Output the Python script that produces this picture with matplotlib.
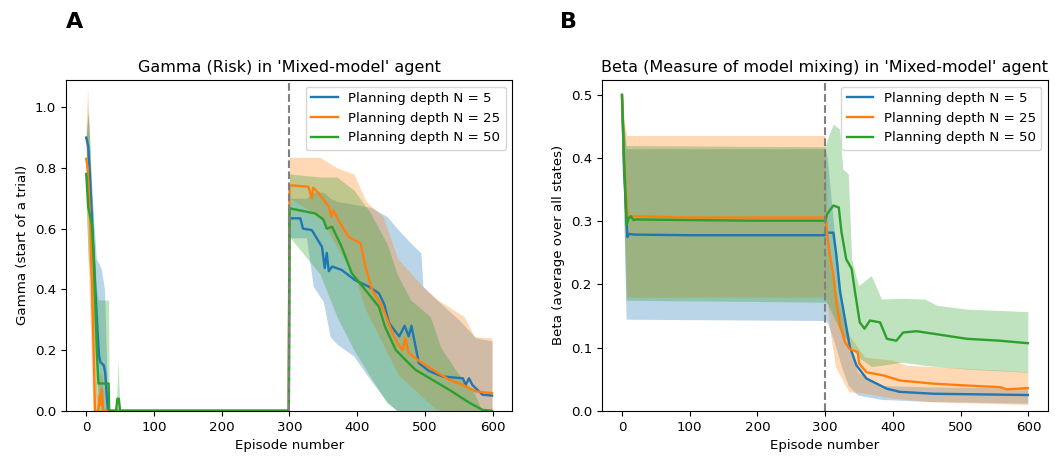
import numpy as np
import matplotlib
matplotlib.use("Agg")
import matplotlib.pyplot as plt

plt.rcParams['font.size'] = 9.6

labels = ["Planning depth N = 5", "Planning depth N = 25", "Planning depth N = 50"]
colors = ["tab:blue", "tab:orange", "tab:green"]

# ---- Panel A: gamma, mean lines (episode, value)
gA_ep_n5 = [0, 3, 6, 11, 16, 19, 21, 26, 28, 30, 32, 40, 100, 200, 299, 300, 316, 320, 333, 348,
            352, 355, 358, 363, 377, 397, 417, 432, 440, 447, 462, 470, 476, 480, 491, 506, 526,
            556, 560, 565, 570, 585, 599]
gA_n5 = [0.90, 0.87, 0.75, 0.51, 0.29, 0.18, 0.16, 0.15, 0.125, 0.06, 0.0, 0.0, 0.0, 0.0, 0.0,
         0.634, 0.634, 0.60, 0.595, 0.54, 0.47, 0.52, 0.46, 0.475, 0.464, 0.43, 0.409, 0.387, 0.35,
         0.289, 0.245, 0.28, 0.245, 0.28, 0.157, 0.131, 0.113, 0.107, 0.085, 0.107, 0.085, 0.053, 0.05]

gA_ep_n25 = [0, 2, 6, 11, 13, 18, 20, 21, 23, 25, 30, 100, 200, 299, 300, 328, 333, 335, 343, 358,
             362, 365, 372, 387, 405, 412, 422, 437, 452, 460, 467, 471, 476, 496, 516, 536, 556,
             575, 599]
gA_n25 = [0.83, 0.80, 0.62, 0.19, 0.0, 0.0, 0.05, 0.02, 0.07, 0.0, 0.0, 0.0, 0.0, 0.0, 0.743,
          0.738, 0.70, 0.735, 0.717, 0.672, 0.64, 0.66, 0.628, 0.573, 0.552, 0.475, 0.398, 0.343,
          0.256, 0.22, 0.20, 0.24, 0.19, 0.157, 0.129, 0.102, 0.085, 0.064, 0.058]

gA_ep_n50 = [0, 3, 8, 11, 16, 18, 33, 34, 44, 46, 48, 50, 100, 200, 299, 300, 338, 350, 355, 363,
             377, 392, 412, 432, 441, 457, 471, 486, 511, 536, 566, 585, 599]
gA_n50 = [0.78, 0.67, 0.62, 0.51, 0.18, 0.09, 0.09, 0.0, 0.0, 0.04, 0.04, 0.0, 0.0, 0.0, 0.0,
          0.667, 0.65, 0.63, 0.60, 0.606, 0.54, 0.453, 0.398, 0.343, 0.277, 0.20, 0.168, 0.135,
          0.102, 0.069, 0.026, 0.003, 0.0]

# ---- Panel A: shaded bands
gA_band_ep_n5 = [0, 3, 8, 15, 22, 27, 32, 40, 299, 300, 325, 335, 350, 360, 370, 395, 420, 444,
                 459, 480, 494, 497, 520, 550, 575, 599]
gA_hi_n5 = [0.92, 0.99, 0.73, 0.50, 0.47, 0.40, 0.0, 0.0, 0.0, 0.70, 0.70, 0.72, 0.72, 0.70, 0.69,
            0.68, 0.67, 0.64, 0.60, 0.55, 0.52, 0.41, 0.36, 0.30, 0.24, 0.23]
gA_lo_n5 = [0.88, 0.70, 0.45, 0.10, 0.0, 0.0, 0.0, 0.0, 0.0, 0.57, 0.57, 0.41, 0.36, 0.244, 0.22,
            0.18, 0.10, 0.03, 0.0, 0.0, 0.0, 0.0, 0.0, 0.0, 0.0, 0.0]

gA_band_ep_n25 = [0, 2, 5, 10, 13, 16, 20, 23, 26, 299, 300, 345, 370, 395, 413, 438, 460, 499,
                  519, 558, 573, 599]
gA_hi_n25 = [0.95, 1.06, 0.90, 0.50, 0.15, 0.05, 0.12, 0.12, 0.0, 0.0, 0.835, 0.835, 0.80, 0.78,
             0.69, 0.64, 0.50, 0.404, 0.365, 0.31, 0.244, 0.24]
gA_lo_n25 = [0.71, 0.55, 0.35, 0.0, 0.0, 0.0, 0.0, 0.0, 0.0, 0.0, 0.70, 0.64, 0.54, 0.45, 0.33,
             0.22, 0.12, 0.04, 0.0, 0.0, 0.0, 0.0]

gA_band_ep_n50 = [0, 3, 8, 15, 18, 33, 34, 44, 46, 47, 48, 50, 299, 300, 345, 370, 395, 420, 444,
                  459, 466, 479, 508, 523, 548, 573, 584, 599]
gA_hi_n50 = [0.90, 0.98, 0.75, 0.40, 0.365, 0.365, 0.0, 0.0, 0.10, 0.17, 0.10, 0.0, 0.0, 0.78,
             0.77, 0.77, 0.727, 0.65, 0.55, 0.45, 0.42, 0.365, 0.31, 0.21, 0.125, 0.058, 0.0, 0.0]
gA_lo_n50 = [0.66, 0.50, 0.40, 0.0, 0.0, 0.0, 0.0, 0.0, 0.0, 0.0, 0.0, 0.0, 0.0, 0.573, 0.45,
             0.31, 0.20, 0.11, 0.026, 0.0, 0.0, 0.0, 0.0, 0.0, 0.0, 0.0, 0.0, 0.0]

# ---- Panel B: beta, mean lines
bB_ep_n5 = [0, 3, 8, 10, 20, 100, 200, 299, 300, 312, 316, 322, 329, 336, 346, 361, 376, 391,
            410, 460, 599]
bB_n5 = [0.50, 0.38, 0.275, 0.28, 0.279, 0.278, 0.278, 0.278, 0.282, 0.282, 0.25, 0.188, 0.146,
         0.103, 0.072, 0.051, 0.043, 0.035, 0.030, 0.027, 0.025]

bB_ep_n25 = [0, 3, 8, 12, 20, 100, 200, 300, 307, 312, 317, 322, 329, 336, 348, 350, 361, 386,
             410, 460, 509, 558, 568, 599]
bB_n25 = [0.50, 0.40, 0.31, 0.308, 0.308, 0.306, 0.306, 0.306, 0.246, 0.214, 0.167, 0.135, 0.109,
          0.098, 0.093, 0.075, 0.061, 0.056, 0.048, 0.043, 0.04, 0.0375, 0.034, 0.036]

bB_ep_n50 = [0, 3, 7, 10, 13, 17, 20, 100, 200, 300, 303, 312, 320, 324, 331, 339, 344, 351, 358,
             366, 381, 391, 405, 415, 435, 460, 509, 558, 599]
bB_n50 = [0.50, 0.40, 0.295, 0.305, 0.308, 0.302, 0.303, 0.302, 0.301, 0.301, 0.312, 0.325, 0.322,
          0.283, 0.24, 0.225, 0.188, 0.14, 0.13, 0.143, 0.14, 0.114, 0.111, 0.124, 0.126, 0.122,
          0.114, 0.111, 0.107]

# ---- Panel B: shaded bands
bB_band_ep_n5 = [0, 3, 6, 300, 303, 313, 324, 334, 348, 383, 450, 599]
bB_hi_n5 = [0.51, 0.45, 0.415, 0.415, 0.40, 0.288, 0.18, 0.103, 0.061, 0.04, 0.038, 0.036]
bB_lo_n5 = [0.49, 0.30, 0.145, 0.143, 0.14, 0.11, 0.07, 0.04, 0.025, 0.018, 0.015, 0.012]

bB_band_ep_n25 = [0, 3, 7, 300, 303, 308, 315, 325, 335, 358, 400, 420, 460, 599]
bB_hi_n25 = [0.51, 0.46, 0.436, 0.436, 0.30, 0.22, 0.19, 0.15, 0.12, 0.085, 0.08, 0.072, 0.07, 0.062]
bB_lo_n25 = [0.49, 0.32, 0.18, 0.18, 0.17, 0.12, 0.07, 0.05, 0.03, 0.028, 0.02, 0.018, 0.014, 0.01]

bB_band_ep_n50 = [0, 3, 6, 300, 303, 312, 321, 326, 334, 339, 349, 368, 383, 413, 447, 465, 509, 599]
bB_hi_n50 = [0.51, 0.455, 0.42, 0.418, 0.43, 0.454, 0.446, 0.383, 0.375, 0.24, 0.198, 0.214,
             0.177, 0.178, 0.177, 0.167, 0.161, 0.157]
bB_lo_n50 = [0.49, 0.30, 0.175, 0.172, 0.17, 0.15, 0.13, 0.12, 0.11, 0.10, 0.085, 0.07, 0.072,
             0.077, 0.072, 0.07, 0.066, 0.061]

gamma_lines = [(gA_ep_n5, gA_n5), (gA_ep_n25, gA_n25), (gA_ep_n50, gA_n50)]
gamma_bands = [(gA_band_ep_n5, gA_lo_n5, gA_hi_n5), (gA_band_ep_n25, gA_lo_n25, gA_hi_n25),
               (gA_band_ep_n50, gA_lo_n50, gA_hi_n50)]
beta_lines = [(bB_ep_n5, bB_n5), (bB_ep_n25, bB_n25), (bB_ep_n50, bB_n50)]
beta_bands = [(bB_band_ep_n5, bB_lo_n5, bB_hi_n5), (bB_band_ep_n25, bB_lo_n25, bB_hi_n25),
              (bB_band_ep_n50, bB_lo_n50, bB_hi_n50)]

fig, (ax1, ax2) = plt.subplots(1, 2, figsize=(10.63, 4.59), dpi=100)
fig.subplots_adjust(left=0.062, right=0.986, bottom=0.105, top=0.826, wspace=0.2)


def draw(ax, lines, bands):
    for (ep, y), (bep, lo, hi), c, lab in zip(lines, bands, colors, labels):
        ax.fill_between(bep, lo, hi, color=c, alpha=0.3, linewidth=0)
        ax.plot(ep, y, color=c, lw=1.7, label=lab)
    ax.axvline(300, color="grey", ls="--", lw=1.5)
    ax.set_xlabel("Episode number")
    ax.set_xlim(-30, 629)
    ax.legend(loc="upper right")


draw(ax1, gamma_lines, gamma_bands)
ax1.set_ylim(0, 1.09)
ax1.set_ylabel("Gamma (start of a trial)")
ax1.set_title("Gamma (Risk) in 'Mixed-model' agent")

draw(ax2, beta_lines, beta_bands)
ax2.set_ylim(0, 0.524)
ax2.set_ylabel("Beta (average over all states)")
ax2.set_title("Beta (Measure of model mixing) in 'Mixed-model' agent")

fig.text(0.07, 0.952, "A", fontsize=16, fontweight="bold", ha="center", va="center")
fig.text(0.535, 0.952, "B", fontsize=16, fontweight="bold", ha="center", va="center")

fig.savefig("out.png", dpi=100)
